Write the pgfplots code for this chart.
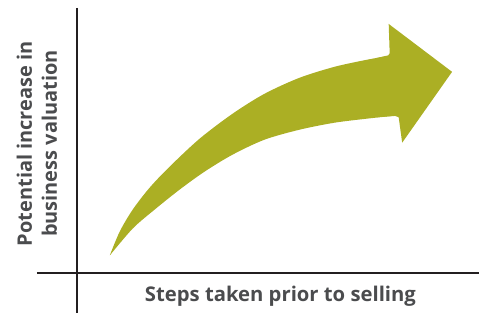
\documentclass[border=0pt]{standalone}
\usepackage{pgfplots}
\pgfplotsset{compat=1.18}
\usepgfplotslibrary{fillbetween}
\usepackage{fontspec}
\setmainfont{Open Sans}
\definecolor{olive}{HTML}{ABAF24}
\definecolor{txt}{HTML}{4B4C4E}
\definecolor{axl}{HTML}{231F20}
\begin{document}
\begin{tikzpicture}
\begin{axis}[
  width=480pt, height=314pt, scale only axis,
  xmin=0, xmax=480, ymin=0, ymax=314,
  hide axis, clip=false,
]
% bounding rectangle (invisible)
\addplot[draw=none, forget plot] coordinates {(0,0) (480,314)};
% arrow body: upper and lower edges (pixel coordinates, y from the bottom)
\addplot[name path=U, draw=none, smooth, tension=0.5, forget plot] coordinates {
 (110,58) (120,82) (133,104) (150,126) (170,147) (200,175) (233,200)
 (265,220) (300,236) (335,247) (367,254) (392,258.5)};
\addplot[name path=L, draw=none, smooth, tension=0.5, forget plot] coordinates {
 (110,58) (133,85) (155,104) (180,124) (205,142) (233,159) (265,174)
 (300,184) (335,191) (367,195) (395,198)};
\addplot[olive, forget plot] fill between[of=U and L];
% arrow head
\addplot[fill=olive, draw=none] coordinates {
 (378,256) (389,258.5) (390.5,260.5) (389.5,290) (453,242) (403,171)
 (399.5,196.5) (396,197.8) (378,196.6)} -- cycle;
% axis lines
\addplot[axl, line width=2pt] coordinates {(77,306) (77,0)};
\addplot[axl, line width=2pt] coordinates {(37,40) (480,40)};
% labels
\node[anchor=base, text=txt, font=\fontsize{20.3}{24}\selectfont\bfseries] at (axis cs:281,12) {Steps taken prior to selling};
\node[anchor=base, rotate=90, text=txt, font=\fontsize{20}{24}\selectfont\bfseries] at (axis cs:32,170) {Potential increase in};
\node[anchor=base, rotate=90, text=txt, font=\fontsize{20}{24}\selectfont\bfseries] at (axis cs:57,170) {business valuation};
\end{axis}
\end{tikzpicture}
\end{document}
